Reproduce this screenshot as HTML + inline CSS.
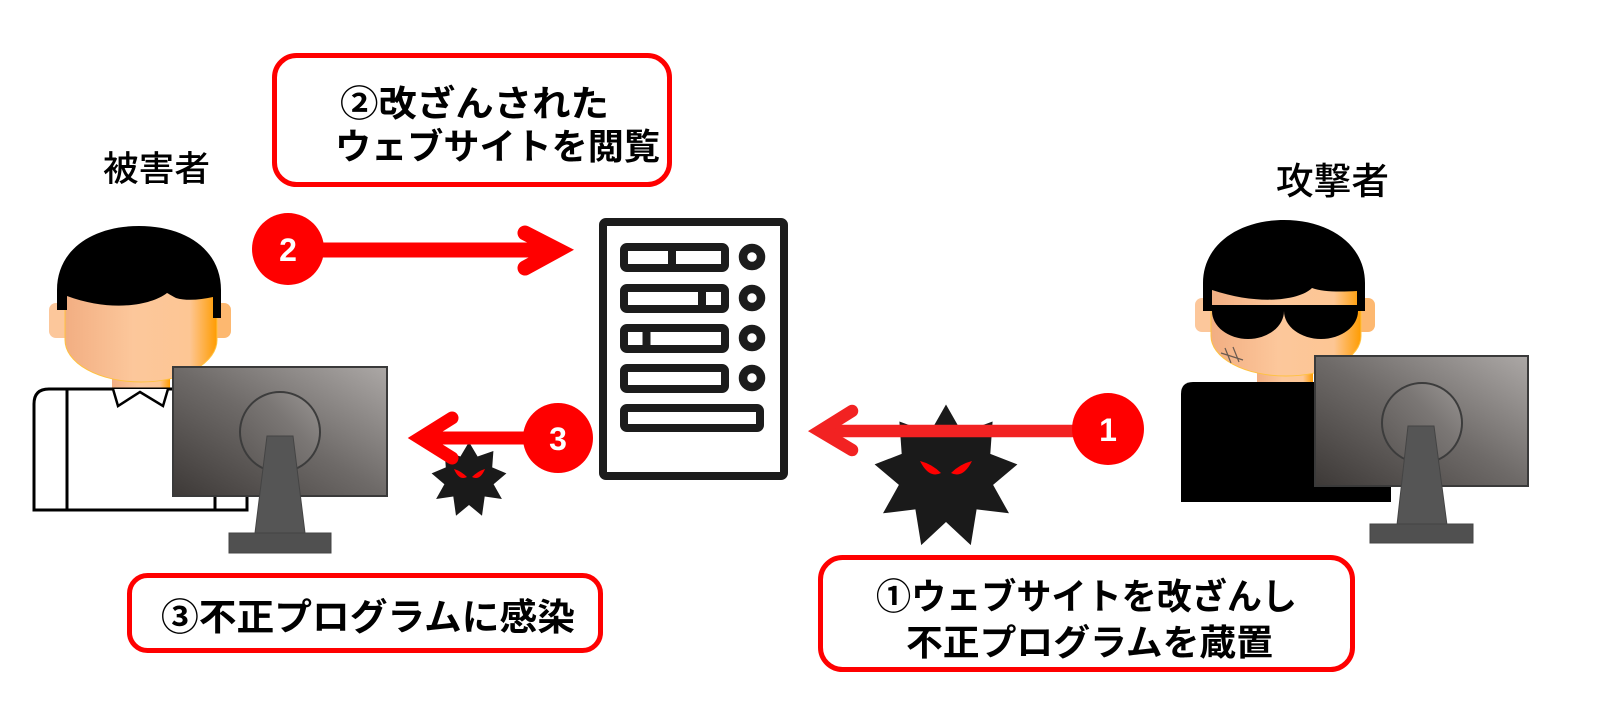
<!DOCTYPE html>
<html><head><meta charset="utf-8"><style>
html,body{margin:0;padding:0;background:#fff;}
svg{display:block;}
.jp{font-family:"Liberation Sans","Noto Sans CJK JP",sans-serif;font-weight:500;fill:#000;}
.jb{font-family:"Liberation Sans","Noto Sans CJK JP",sans-serif;font-weight:700;fill:#000;}
.num{font-family:"Liberation Sans",sans-serif;font-weight:bold;fill:#fff;font-size:32px;}
</style></head><body>
<svg width="1600" height="713" viewBox="0 0 1600 713" xmlns="http://www.w3.org/2000/svg">
<defs>
<linearGradient id="face" x1="0" y1="0" x2="1" y2="0">
<stop offset="0" stop-color="#f2ae82"/><stop offset="0.45" stop-color="#fcc79b"/><stop offset="0.82" stop-color="#fdc694"/><stop offset="1" stop-color="#ff9c00"/>
</linearGradient>
<linearGradient id="mon" x1="0" y1="1" x2="1" y2="0">
<stop offset="0" stop-color="#3d3937"/><stop offset="0.5" stop-color="#6e6a68"/><stop offset="1" stop-color="#aca8a6"/>
</linearGradient>
<linearGradient id="monc" x1="0" y1="1" x2="1" y2="0">
<stop offset="0" stop-color="#5a5654"/><stop offset="0.6" stop-color="#7a7674"/><stop offset="1" stop-color="#9a9694"/>
</linearGradient>
</defs>

<!-- ===== Victim ===== -->
<text class="jp" x="103" y="181" font-size="35" textLength="107" lengthAdjust="spacingAndGlyphs">被害者</text>
<rect x="49" y="303" width="22" height="35" rx="7" fill="#fcc79b"/>
<rect x="209" y="303" width="22" height="35" rx="7" fill="#fdb870"/>
<rect x="112" y="372" width="58" height="18" fill="url(#face)"/>
<path d="M65,285 L65,340 A76,42 0 0 0 217,340 L217,285 Z" fill="url(#face)" stroke="#ffc240" stroke-width="1"/>
<path d="M57,310 L57,290 C57,250 92,226 139,226 C186,226 221,250 221,290 L221,318 L213,318 L213,297 C200,300 186,301 176,298 C172,296 169,294 167,293 C150,306 110,312 67,296 L67,310 Z" fill="#000"/>
<path d="M34,510 L34,404 Q34,389 49,389 L247,389 L247,510 Z" fill="#fff" stroke="#000" stroke-width="3"/>
<line x1="67" y1="389" x2="67" y2="510" stroke="#000" stroke-width="3"/>
<line x1="215" y1="480" x2="215" y2="510" stroke="#000" stroke-width="3"/>
<polyline points="113,389 118,406 140,392 163,406 168,389" fill="#fff" stroke="#000" stroke-width="2.5"/>
<rect x="173" y="367" width="214" height="129" fill="url(#mon)" stroke="#3a3a3a" stroke-width="2"/>
<circle cx="280" cy="432" r="40" fill="url(#monc)" stroke="#3c3c3c" stroke-width="2"/>
<polygon points="267,436 293,436 305,533 255,533" fill="#555" stroke="#444" stroke-width="1"/>
<rect x="229" y="533" width="102" height="20" fill="#505050" stroke="#444" stroke-width="1"/>

<!-- ===== Attacker ===== -->
<text class="jp" x="1276" y="194" font-size="37" textLength="113" lengthAdjust="spacingAndGlyphs">攻撃者</text>
<rect x="1195" y="298" width="22" height="34" rx="7" fill="#fcc79b"/>
<rect x="1355" y="298" width="20" height="34" rx="7" fill="#fdb870"/>
<rect x="1257" y="368" width="56" height="16" fill="url(#face)"/>
<path d="M1211,280 L1211,336 A75,40 0 0 0 1361,336 L1361,280 Z" fill="url(#face)" stroke="#ffc240" stroke-width="1"/>
<path d="M1203,310 L1203,283 C1203,245 1238,220 1284,220 C1330,220 1365,245 1365,283 L1365,310 L1357,310 L1357,291 C1340,292 1322,292 1312,288 C1300,300 1260,306 1212,290 L1212,310 Z" fill="#000"/>
<path d="M1203,305 L1365,305 L1365,311 L1358,311 A37,28 0 0 1 1284,311 A36,28 0 0 1 1212,311 L1203,311 Z" fill="#000"/>
<g stroke="#6a5a50" stroke-width="1.2">
<line x1="1221" y1="353" x2="1243" y2="360"/>
<line x1="1225" y1="348" x2="1231" y2="363"/>
<line x1="1233" y1="347" x2="1239" y2="362"/>
</g>
<path d="M1181,502 L1181,394 Q1181,382 1193,382 L1391,382 L1391,502 Z" fill="#000"/>
<rect x="1315" y="356" width="213" height="130" fill="url(#mon)" stroke="#3a3a3a" stroke-width="2"/>
<circle cx="1422" cy="423" r="40" fill="url(#monc)" stroke="#3c3c3c" stroke-width="2"/>
<polygon points="1408,426 1434,426 1447,525 1397,525" fill="#555" stroke="#444" stroke-width="1"/>
<rect x="1370" y="524" width="103" height="19" fill="#505050" stroke="#444" stroke-width="1"/>

<!-- ===== Server ===== -->
<g fill="none" stroke="#1c1c1c" stroke-width="8" stroke-linejoin="round">
<rect x="603" y="222" width="181" height="254" rx="3"/>
<rect x="624" y="247" width="101" height="21" rx="3"/>
<rect x="624" y="288" width="101" height="21" rx="3"/>
<rect x="624" y="328" width="101" height="21" rx="3"/>
<rect x="624" y="368" width="101" height="21" rx="3"/>
<rect x="624" y="408" width="136" height="20" rx="3"/>
<line x1="672" y1="247" x2="672" y2="268"/>
<line x1="702" y1="288" x2="702" y2="309"/>
<line x1="646.5" y1="328" x2="646.5" y2="349"/>
</g>
<g fill="none" stroke="#1c1c1c" stroke-width="8.5">
<circle cx="752" cy="257" r="9"/>
<circle cx="752" cy="298" r="9"/>
<circle cx="752" cy="338" r="9"/>
<circle cx="752" cy="378" r="9"/>
</g>

<!-- ===== Viruses ===== -->
<polygon fill="#1a1a1a" points="946.0,404.5 962.1,432.8 992.6,421.5 990.3,453.9 1017.4,464.4 993.1,484.9 1009.0,513.3 976.6,509.4 970.8,545.1 946.0,522.0 921.2,545.1 915.4,509.4 883.0,513.3 898.9,484.9 874.6,464.4 901.7,453.9 899.4,421.5 929.9,432.8"/>
<path d="M920,461 Q932,464 941,473 Q929,479 920,461 Z" fill="#f00"/>
<path d="M972,461 Q960,464 951,473 Q963,479 972,461 Z" fill="#f00"/>

<polygon fill="#1a1a1a" points="469.0,442.0 477.6,456.5 493.4,451.0 492.2,467.4 506.4,473.4 493.6,484.2 501.9,499.0 484.7,496.5 482.0,515.7 469.0,505.0 456.0,515.7 453.3,496.5 436.1,499.0 444.4,484.2 431.6,473.4 445.8,467.4 444.6,451.0 460.4,456.5"/>
<path d="M454,469 Q461,471 467,477 Q459,481 454,469 Z" fill="#f00"/>
<path d="M485,469 Q478,471 472,477 Q480,481 485,469 Z" fill="#f00"/>

<!-- ===== Arrows ===== -->
<line x1="288" y1="250" x2="556" y2="250" stroke="#ff0000" stroke-width="15"/>
<polyline points="525,233 558,250 525,268" fill="none" stroke="#ff0000" stroke-width="15" stroke-linecap="round" stroke-linejoin="miter" stroke-miterlimit="10"/>
<circle cx="288" cy="249" r="36" fill="#ff0000"/>
<text class="num" x="288" y="261" text-anchor="middle">2</text>

<line x1="558" y1="438" x2="422" y2="438" stroke="#ff0000" stroke-width="13"/>
<polyline points="452,418 420,438 452,458" fill="none" stroke="#ff0000" stroke-width="13" stroke-linecap="round" stroke-linejoin="miter" stroke-miterlimit="10"/>
<circle cx="558" cy="438" r="35" fill="#ff0000"/>
<text class="num" x="558" y="450" text-anchor="middle">3</text>

<line x1="1108" y1="431" x2="822" y2="431" stroke="#f22222" stroke-width="12.5"/>
<polyline points="852,411 820,431 852,450" fill="none" stroke="#f22222" stroke-width="12.5" stroke-linecap="round" stroke-linejoin="miter" stroke-miterlimit="10"/>
<circle cx="1108" cy="429" r="36" fill="#ff0000"/>
<text class="num" x="1108" y="441" text-anchor="middle">1</text>

<!-- ===== Label boxes ===== -->
<rect x="274.5" y="55.5" width="395" height="129" rx="22" fill="#fff" stroke="#ff0000" stroke-width="5"/>
<text class="jb" x="340" y="116" font-size="36" textLength="269" lengthAdjust="spacingAndGlyphs">②改ざんされた</text>
<text class="jb" x="335" y="159" font-size="36" textLength="325" lengthAdjust="spacingAndGlyphs">ウェブサイトを閲覧</text>

<rect x="129.5" y="575.5" width="471" height="75" rx="18" fill="#fff" stroke="#ff0000" stroke-width="5"/>
<text class="jb" x="161" y="630" font-size="37" textLength="414" lengthAdjust="spacingAndGlyphs">③不正プログラムに感染</text>

<rect x="820.5" y="557.5" width="532" height="112" rx="22" fill="#fff" stroke="#ff0000" stroke-width="5"/>
<text class="jb" x="876" y="609" font-size="36" textLength="421" lengthAdjust="spacingAndGlyphs">①ウェブサイトを改ざんし</text>
<text class="jb" x="906" y="655" font-size="36" textLength="367" lengthAdjust="spacingAndGlyphs">不正プログラムを蔵置</text>
</svg>
</body></html>
